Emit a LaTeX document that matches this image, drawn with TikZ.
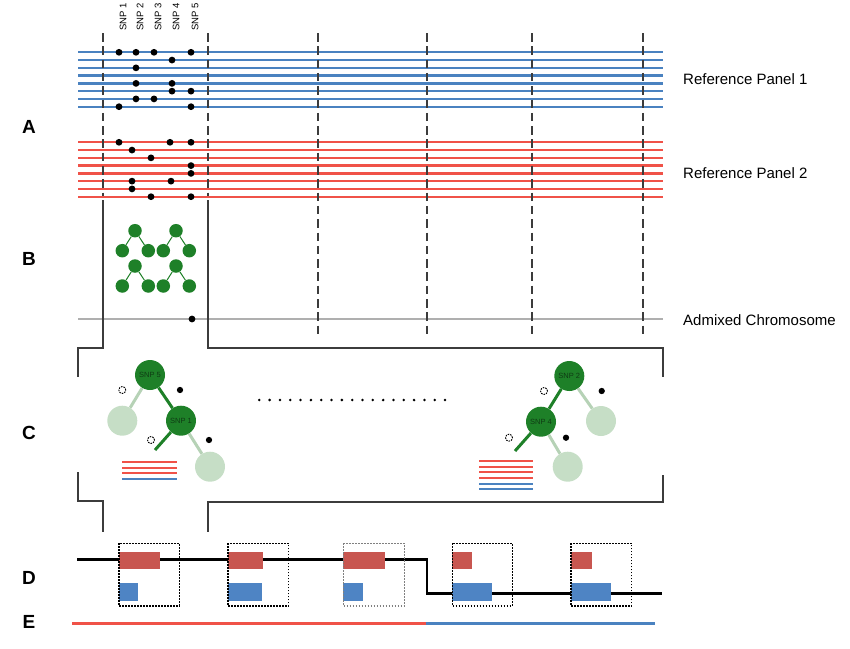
\documentclass[tikz,border=0pt]{standalone}
\usepackage{fontspec}
\setmainfont{Liberation Sans}
\definecolor{pblue}{RGB}{74,130,192}
\definecolor{pred}{RGB}{240,82,72}
\definecolor{dgreen}{RGB}{30,128,40}
\definecolor{lgreen}{RGB}{198,222,198}
\definecolor{lgedge}{RGB}{182,210,182}
\definecolor{rrect}{RGB}{200,86,80}
\definecolor{brect}{RGB}{78,132,196}
\definecolor{dgray}{RGB}{60,60,60}
\definecolor{agray}{RGB}{175,175,175}
\definecolor{ntext}{RGB}{15,60,20}
\begin{document}
\begin{tikzpicture}[x=1pt,y=-1pt,
  blueline/.style={pblue,line width=2.3pt},
  redline/.style={pred,line width=2.3pt},
  dashv/.style={dgray,line width=2.2pt,dash pattern=on 8.5pt off 4.8pt},
  bracket/.style={dgray,line width=2pt},
  snpdot/.style={circle,fill=black,inner sep=0pt,minimum size=6.8pt},
  smalldot/.style={circle,fill=black,inner sep=0pt,minimum size=6.3pt},
  opendot/.style={circle,draw=black,dash pattern=on 1.6pt off 1pt,line width=0.9pt,inner sep=0pt,minimum size=7pt},
  gnode/.style={circle,fill=dgreen,inner sep=0pt,minimum size=13.5pt},
  gedge/.style={dgreen,line width=1pt},
  dnode/.style={circle,fill=dgreen,inner sep=0pt,minimum size=30pt,font=\fontsize{7.5}{8}\selectfont,text=ntext},
  lnode/.style={circle,fill=lgreen,inner sep=0pt,minimum size=30pt},
  dedge/.style={dgreen,line width=3pt},
  ledge/.style={lgedge,line width=3pt},
  snplab/.style={rotate=90,anchor=west,inner sep=0pt,font=\fontsize{9.5}{11}\selectfont},
  rlab/.style={anchor=west,inner sep=0pt,font=\fontsize{15}{17}\selectfont},
  letter/.style={inner sep=0pt,font=\fontsize{19}{21}\selectfont\bfseries},
  rr/.style={fill=rrect},
  br/.style={fill=brect},
  dbox/.style={draw=black,line width=1.3pt,dash pattern=on 1.6pt off 1.4pt},
  gbox/.style={draw=gray,line width=1.3pt,dash pattern=on 1.6pt off 1.4pt},
]
\useasboundingbox (0,0) rectangle (850,648);

% ---- Panels
\foreach \i in {0,...,7} {
  \draw[blueline] (78,{52.3+7.77*\i}) -- (663,{52.3+7.77*\i});
  \draw[redline] (78,{142.3+7.77*\i}) -- (663,{142.3+7.77*\i});
}
\draw[agray,line width=2pt] (78,319) -- (663,319);

% ---- dashed verticals
\foreach \x in {318,427,532,643} \draw[dashv] (\x,33) -- (\x,335);
\foreach \x in {103,208} \draw[dashv] (\x,33) -- (\x,196);

% ---- brackets
\draw[bracket] (103,200) -- (103,348) -- (78,348) -- (78,377);
\draw[bracket] (208,200) -- (208,348) -- (663,348) -- (663,377);
\draw[bracket] (78,472) -- (78,501) -- (103,501) -- (103,532);
\draw[bracket] (663,475) -- (663,502) -- (208,502) -- (208,532);

% ---- SNP labels
\node[snplab] (t1) at (123,31) {SNP 1};
\node[snplab] (t2) at (140,31) {SNP 2};
\node[snplab] (t3) at (158,31) {SNP 3};
\node[snplab] (t4) at (176,31) {SNP 4};
\node[snplab] (t5) at (195,31) {SNP 5};

% ---- dots panel 1
\foreach \x/\r in {119/0,136/0,154/0,191/0,172/1,136/2,136/4,172/4,172/5,191/5,136/6,154/6,119/7,191/7}
  \node[snpdot] at (\x,{52.3+7.77*\r}) {};
% ---- dots panel 2
\foreach \x/\r in {119/0,170/0,191/0,132/1,151/2,191/3,191/4,132/5,171/5,132/6,151/7,191/7}
  \node[snpdot] at (\x,{142.3+7.77*\r}) {};
% admixed dot
\node[snpdot] (adm) at (192,319) {};

% ---- right labels
\node[rlab] (rp1) at (683,79) {Reference Panel 1};
\node[rlab] (rp2) at (683,173) {Reference Panel 2};
\node[rlab] (ac) at (683,320) {Admixed Chromosome};

% ---- letters
\node[letter] (LA) at (29,127) {A};
\node[letter] (LB) at (29,259) {B};
\node[letter] (LC) at (29,433) {C};
\node[letter] (LD) at (29,578) {D};
\node[letter] (LE) at (29,622) {E};

% ---- B trees
\foreach \n/\cx/\cy in {a/135/230.7,b/176/230.7,c/135/266,d/176/266} {
  \node[gnode] (\n r) at (\cx,\cy) {};
  \node[gnode] (\n l) at ({\cx-12.7},{\cy+20}) {};
  \node[gnode] (\n q) at ({\cx+13.3},{\cy+20}) {};
  \draw[gedge] (\n r) -- (\n l);
  \draw[gedge] (\n r) -- (\n q);
}

% ---- C left tree
\node[dnode] (s5) at (150,375) {SNP 5};
\node[dnode] (s1) at (181,420.7) {SNP 1};
\node[lnode] (l1) at (122.3,420.7) {};
\node[lnode] (l2) at (210,466.7) {};
\coordinate (st1) at (155,450);
\draw[ledge] (s5) -- (l1);
\draw[dedge] (s5) -- (s1);
\draw[ledge] (s1) -- (l2);
\draw[dedge] (s1) -- (st1);
\node[opendot] (o1) at (122.3,390) {};
\node[opendot] (o2) at (151,440) {};
\node[smalldot] (k1) at (180,390) {};
\node[smalldot] (k2) at (209,440) {};
\foreach \y in {462.3,467.7,473.3} \draw[pred,line width=2pt] (122,\y) -- (177,\y);
\draw[pblue,line width=2pt] (122,479.3) -- (177,479.3);

% ---- C right tree
\node[dnode] (s2) at (569.3,376) {SNP 2};
\node[dnode] (s4) at (541,421.7) {SNP 4};
\node[lnode] (l3) at (601,421) {};
\node[lnode] (l4) at (567.7,466.7) {};
\coordinate (st2) at (515,451);
\draw[dedge] (s2) -- (s4);
\draw[ledge] (s2) -- (l3);
\draw[ledge] (s4) -- (l4);
\draw[dedge] (s4) -- (st2);
\node[opendot] (o3) at (544,391) {};
\node[opendot] (o4) at (509,437.7) {};
\node[smalldot] (k3) at (601.7,391) {};
\node[smalldot] (k4) at (566,437.7) {};
\foreach \y in {461,466.7,472.3,477.7} \draw[pred,line width=2pt] (479,\y) -- (533,\y);
\foreach \y in {484,489} \draw[pblue,line width=2pt] (479,\y) -- (533,\y);

% ---- dotted ellipsis
\foreach \i in {0,...,18} \fill ({259.3+10.32*\i},400) circle (1.4);

% ---- D
\draw[black,line width=2.8pt] (77,559.5) -- (427,559.5) -- (427,593.5) -- (662,593.5);
\foreach \x/\rw/\bw in {119/41/18.7,228/35.3/33.7,343.3/41.7/19.4,452.3/20/39.4,571/20.7/39.7} {
  \fill[rr] (\x,551.7) rectangle ({\x+\rw},569.3);
  \fill[br] (\x,583.3) rectangle ({\x+\bw},601);
}
\draw[dbox] (119,543.3) rectangle (179.3,606);
\draw[dbox] (228,543.3) rectangle (288.7,606);
\draw[gbox] (343.3,543.3) rectangle (404.3,606);
\draw[dbox] (452.3,543.3) rectangle (512.3,606);
\draw[dbox] (571,543.3) rectangle (631.7,606);

% ---- E
\draw[pred,line width=2.5pt] (72,623.5) -- (426,623.5);
\draw[pblue,line width=2.5pt] (426,623.5) -- (655,623.5);
\end{tikzpicture}
\end{document}
